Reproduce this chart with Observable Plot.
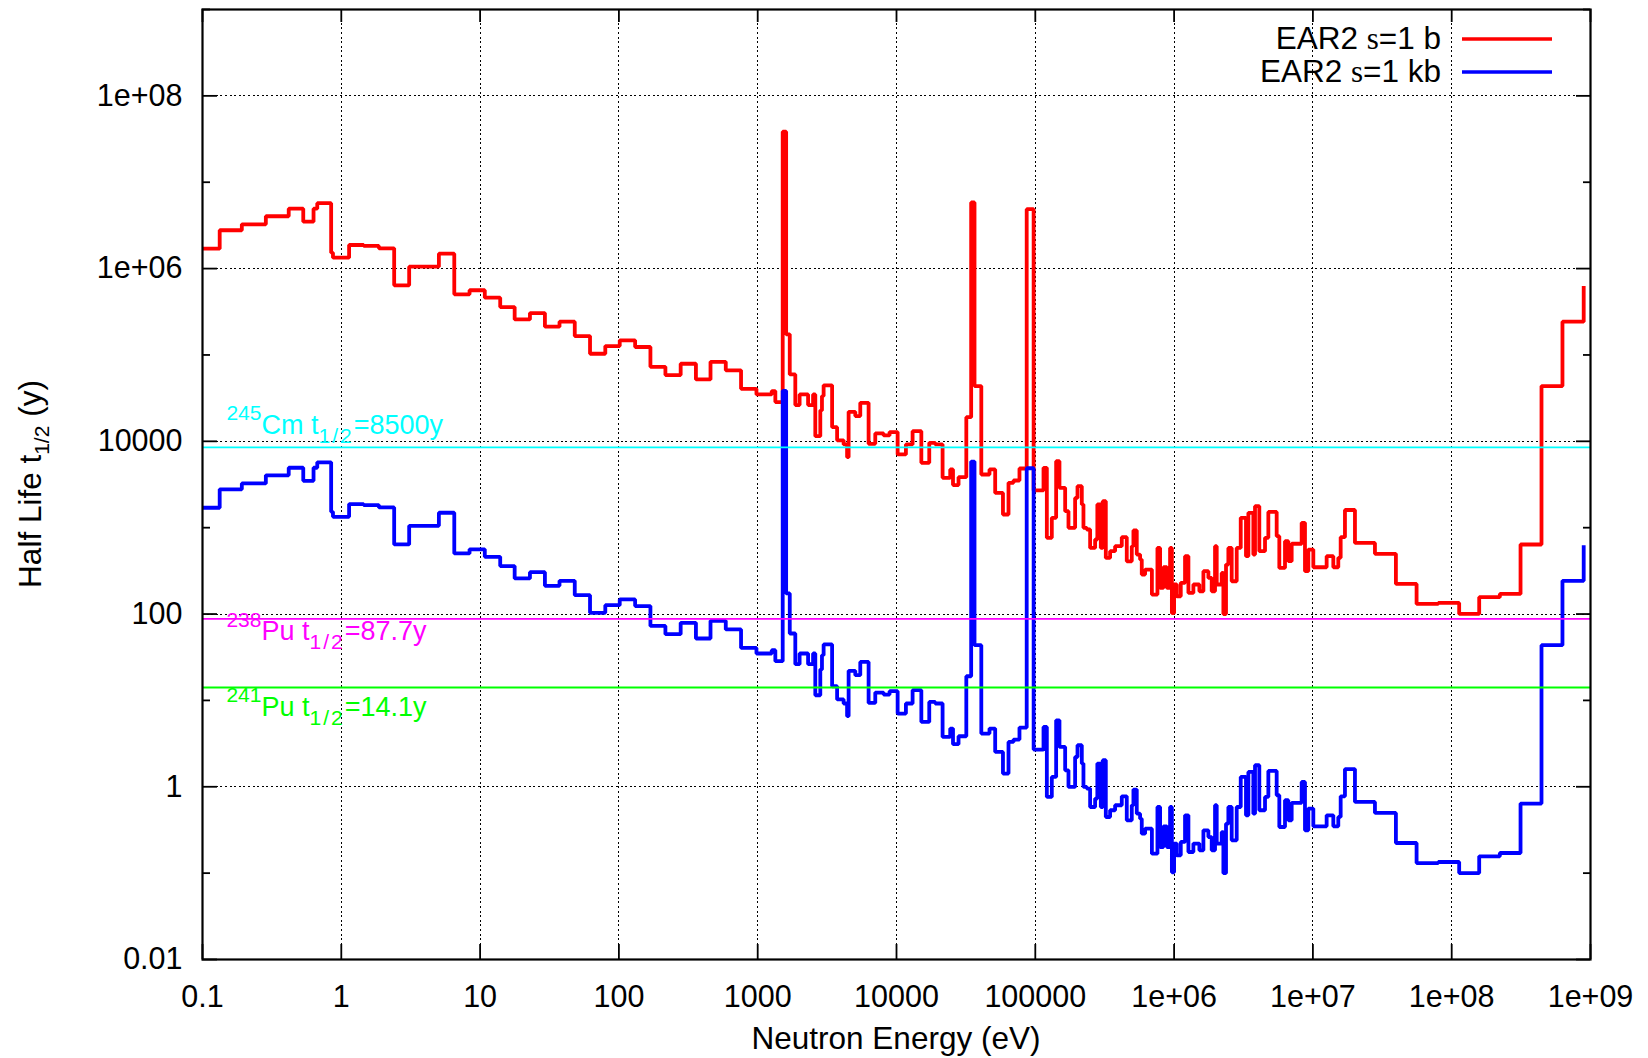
<!DOCTYPE html>
<html>
<head>
<meta charset="utf-8">
<script src="https://cdn.jsdelivr.net/npm/d3@7"></script>
<script src="https://cdn.jsdelivr.net/npm/@observablehq/plot@0.6"></script>
<style>
  body { margin: 0; background: #fff; }
  #chart { width: 1648px; height: 1058px; }
</style>
</head>
<body>
<div id="chart"></div>
<script>
// ---------- DATA ----------
// Lower edge of each energy bin (eV); the last entry closes the final bin.
const energy = [
  0.1, 0.133, 0.192, 0.286, 0.418, 0.532, 0.631, 0.671, 0.845, 0.871,
  1.138, 1.449, 1.866, 2.404, 3.083, 5.047, 6.516, 8.395, 10.81, 13.96,
  17.74, 22.86, 29.31, 37.33, 48.08, 61.94, 79.80, 101.4, 130.9, 168.7,
  216.3, 278.6, 358.9, 457.1, 588.8, 758.6, 979.5, 1262, 1340, 1514,
  1603, 1702, 1866, 2004, 2307, 2506, 2600, 2825, 2904, 2985,
  3436, 3733, 4159, 4406, 4519, 5047, 5483, 6295, 7031, 8072,
  8913, 1.019e4, 1.169e4, 1.306e4, 1.510e4, 1.722e4, 1.901e4, 2.148e4, 2.438e4, 2.553e4,
  2.799e4, 3.184e4, 3.451e4, 3.648e4, 4.083e4, 4.677e4, 5.140e4, 5.848e4, 6.412e4, 6.966e4,
  7.691e4, 8.670e4, 9.727e4, 1.146e5, 1.211e5, 1.315e5, 1.413e5, 1.493e5, 1.641e5, 1.734e5,
  1.936e5, 2.014e5, 2.163e5, 2.223e5, 2.350e5, 2.483e5, 2.698e5, 2.799e5, 2.965e5, 3.062e5,
  3.221e5, 3.459e5, 3.758e5, 4.198e5, 4.560e5, 4.955e5, 5.093e5, 5.383e5, 5.689e5, 5.848e5,
  6.180e5, 6.918e5, 7.586e5, 7.925e5, 8.375e5, 8.872e5, 9.354e5, 9.638e5, 1.000e6, 1.045e6,
  1.117e6, 1.199e6, 1.268e6, 1.377e6, 1.521e6, 1.626e6, 1.766e6, 1.866e6, 1.972e6, 2.028e6,
  2.203e6, 2.265e6, 2.366e6, 2.460e6, 2.600e6, 2.825e6, 3.020e6, 3.296e6, 3.428e6, 3.724e6,
  3.828e6, 4.111e6, 4.519e6, 4.775e6, 5.483e6, 5.728e6, 6.295e6, 6.653e6, 7.031e6, 8.299e6,
  8.770e6, 9.268e6, 1.007e7, 1.256e7, 1.403e7, 1.524e7, 1.585e7, 1.702e7, 2.009e7, 2.799e7,
  3.963e7, 5.585e7, 8.000e7, 1.132e8, 1.578e8, 2.223e8, 3.133e8, 4.436e8, 6.281e8, 8.933e8
];

// Half life (y) for EAR2, sigma = 1 b
const halfLife1b = [
  1.702e6, 2.780e6, 3.258e6, 4.036e6, 4.943e6, 3.491e6, 4.943e6, 5.715e6, 1.528e6, 1.337e6,
  1.875e6, 1.828e6, 1.718e6, 6.397e5, 1.052e6, 1.489e6, 5.035e5, 5.610e5, 4.603e5, 3.589e5,
  2.582e5, 3.055e5, 2.123e5, 2.427e5, 1.656e5, 1.033e5, 1.268e5, 1.476e5, 1.236e5, 7.295e4,
  5.848e4, 7.907e4, 5.212e4, 8.337e4, 6.637e4, 4.055e4, 3.491e4, 3.819e4, 2.844e4, 3.846e7,
  1.734e5, 5.957e4, 2.630e4, 3.491e4, 2.630e4, 3.491e4, 1.148e4, 2.280e4, 3.342e4, 4.446e4,
  1.459e4, 1.026e4, 9.204e3, 6.561e3, 2.198e4, 1.959e4, 2.793e4, 9.354e3, 1.233e4, 1.169e4,
  1.279e4, 7.047e3, 9.204e3, 1.312e4, 5.636e3, 9.616e3, 9.204e3, 3.776e3, 4.721e3, 3.112e3,
  3.846e3, 1.905e4, 5.834e6, 4.365e4, 4.130e3, 4.721e3, 2.529e3, 1.422e3, 3.304e3, 3.516e3,
  4.842e3, 4.875e6, 2.698e3, 4.932e3, 7.638e2, 1.300e3, 5.888e3, 2.897e3, 1.552e3, 9.954e2,
  2.213e3, 3.027e3, 1.858e3, 9.954e2, 9.528e2, 5.834e2, 7.294e2, 1.858e3, 5.834e2, 2.028e3,
  4.467e2, 5.346e2, 6.109e2, 7.762e2, 4.083e2, 6.109e2, 9.289e2, 4.887e2, 4.276e2, 2.864e2,
  3.273e2, 1.679e2, 5.834e2, 2.004e2, 3.483e2, 2.004e2, 5.834e2, 1.023e2, 2.198e2, 1.607e2,
  2.296e2, 4.677e2, 1.758e2, 2.198e2, 1.837e2, 3.133e2, 2.618e2, 1.837e2, 6.109e2, 2.198e2,
  2.992e2, 1.000e2, 3.741e2, 5.834e2, 2.399e2, 5.834e2, 1.300e3, 4.677e2, 1.486e3, 4.887e2,
  1.774e3, 5.346e2, 7.638e2, 1.524e3, 7.980e2, 3.420e2, 6.982e2, 4.093e2, 6.516e2, 1.138e3,
  3.133e2, 5.585e2, 3.483e2, 4.677e2, 3.483e2, 4.477e2, 7.762e2, 1.603e3, 6.668e2, 4.977e2,
  2.234e2, 1.309e2, 1.346e2, 1.002e2, 1.567e2, 1.710e2, 6.383e2, 4.365e4, 2.427e5, 6.281e5
];

// Half life (y) for EAR2, sigma = 1 kb
const halfLife1kb = [
  1.702e3, 2.780e3, 3.258e3, 4.036e3, 4.943e3, 3.491e3, 4.943e3, 5.715e3, 1.528e3, 1.337e3,
  1.875e3, 1.828e3, 1.718e3, 6.397e2, 1.052e3, 1.489e3, 5.035e2, 5.610e2, 4.603e2, 3.589e2,
  2.582e2, 3.055e2, 2.123e2, 2.427e2, 1.656e2, 1.033e2, 1.268e2, 1.476e2, 1.236e2, 7.295e1,
  5.848e1, 7.907e1, 5.212e1, 8.337e1, 6.637e1, 4.055e1, 3.491e1, 3.819e1, 2.844e1, 3.846e4,
  1.734e2, 5.957e1, 2.630e1, 3.491e1, 2.630e1, 3.491e1, 1.148e1, 2.280e1, 3.342e1, 4.446e1,
  1.459e1, 1.026e1, 9.204e0, 6.561e0, 2.198e1, 1.959e1, 2.793e1, 9.354e0, 1.233e1, 1.169e1,
  1.279e1, 7.047e0, 9.204e0, 1.312e1, 5.636e0, 9.616e0, 9.204e0, 3.776e0, 4.721e0, 3.112e0,
  3.846e0, 1.905e1, 5.834e3, 4.365e1, 4.130e0, 4.721e0, 2.529e0, 1.422e0, 3.304e0, 3.516e0,
  4.842e0, 4.875e3, 2.698e0, 4.932e0, 7.638e-1, 1.300e0, 5.888e0, 2.897e0, 1.552e0, 9.954e-1,
  2.213e0, 3.027e0, 1.858e0, 9.954e-1, 9.528e-1, 5.834e-1, 7.294e-1, 1.858e0, 5.834e-1, 2.028e0,
  4.467e-1, 5.346e-1, 6.109e-1, 7.762e-1, 4.083e-1, 6.109e-1, 9.289e-1, 4.887e-1, 4.276e-1, 2.864e-1,
  3.273e-1, 1.679e-1, 5.834e-1, 2.004e-1, 3.483e-1, 2.004e-1, 5.834e-1, 1.023e-1, 2.198e-1, 1.607e-1,
  2.296e-1, 4.677e-1, 1.758e-1, 2.198e-1, 1.837e-1, 3.133e-1, 2.618e-1, 1.837e-1, 6.109e-1, 2.198e-1,
  2.992e-1, 1.000e-1, 3.741e-1, 5.834e-1, 2.399e-1, 5.834e-1, 1.300e0, 4.677e-1, 1.486e0, 4.887e-1,
  1.774e0, 5.346e-1, 7.638e-1, 1.524e0, 7.980e-1, 3.420e-1, 6.982e-1, 4.093e-1, 6.516e-1, 1.138e0,
  3.133e-1, 5.585e-1, 3.483e-1, 4.677e-1, 3.483e-1, 4.477e-1, 7.762e-1, 1.603e0, 6.668e-1, 4.977e-1,
  2.234e-1, 1.309e-1, 1.346e-1, 1.002e-1, 1.567e-1, 1.710e-1, 6.383e-1, 4.365e1, 2.427e2, 6.281e2
];

const seriesLabels = ["1 b", "1 kb"];
const seriesColors = ["#ff0000", "#0000ff"];

// Reference half lives
const refValue = [8500, 87.7, 14.1];
const refMass = ["245", "238", "241"];
const refElement = ["Cm", "Pu", "Pu"];
const refTime = ["=8500y", "=87.7y", "=14.1y"];
const refColor = ["#00ffff", "#ff00ff", "#00ff00"];
const refLabelEnergy = 0.15;
const refLabelDy = [-13, 22, 29];

// Axis ticks
const xTicks = [0.1, 1, 10, 100, 1000, 1e4, 1e5, 1e6, 1e7, 1e8, 1e9];
const xTickLabels = ["0.1", "1", "10", "100", "1000", "10000", "100000", "1e+06", "1e+07", "1e+08", "1e+09"];
const xGrid = [1, 10, 100, 1000, 1e4, 1e5, 1e6, 1e7, 1e8];
const yTicks = [0.01, 1, 100, 1e4, 1e6, 1e8];
const yTickLabels = ["0.01", "1", "100", "10000", "1e+06", "1e+08"];
const yMinorTicks = [0.1, 10, 1000, 1e5, 1e7, 1e9];
const yGrid = [1, 100, 1e4, 1e6, 1e8];

// ---------- LAYOUT ----------
const W = 1648, H = 1058;
const mL = 202, mR = 58, mT = 9, mB = 99;
const frameW = W - mL - mR, frameH = H - mT - mB;
const FONT = "'Liberation Sans', Arial, Helvetica, sans-serif";

const redData = energy.map((e, i) => ({e, t: halfLife1b[i]}));
const blueData = energy.map((e, i) => ({e, t: halfLife1kb[i]}));

const gridStyle = {stroke: "#000", strokeOpacity: 1, strokeWidth: 1, strokeDasharray: "2,2.6", shapeRendering: "crispEdges"};
const lineStyle = {x: "e", y: "t", curve: "step-after", strokeWidth: 3.8, strokeLinejoin: "miter", strokeLinecap: "butt"};

const plot = Plot.plot({
  width: W, height: H,
  marginLeft: mL, marginRight: mR, marginTop: mT, marginBottom: mB,
  style: {fontFamily: FONT, fontSize: "30.5px", color: "#000", background: "#fff", overflow: "visible"},
  x: {type: "log", domain: [0.1, 1e9]},
  y: {type: "log", domain: [0.01, 1e9]},
  marks: [
    Plot.gridX(xGrid, gridStyle),
    Plot.gridY(yGrid, gridStyle),
    Plot.line(redData, {...lineStyle, stroke: seriesColors[0]}),
    Plot.line(blueData, {...lineStyle, stroke: seriesColors[1]}),
    ...refValue.map((v, i) => Plot.ruleY([v], {stroke: refColor[i], strokeWidth: 1.8})),
    // inward ticks, gnuplot style
    Plot.tickX(xTicks, {x: d => d, stroke: "#000", strokeWidth: 1.8, insetTop: frameH - 15}),
    Plot.tickX(xTicks, {x: d => d, stroke: "#000", strokeWidth: 1.8, insetBottom: frameH - 13}),
    Plot.tickY(yTicks, {y: d => d, stroke: "#000", strokeWidth: 1.8, insetRight: frameW - 15}),
    Plot.tickY(yTicks, {y: d => d, stroke: "#000", strokeWidth: 1.8, insetLeft: frameW - 14}),
    Plot.tickY(yMinorTicks, {y: d => d, stroke: "#000", strokeWidth: 1.8, insetRight: frameW - 8}),
    Plot.tickY(yMinorTicks, {y: d => d, stroke: "#000", strokeWidth: 1.8, insetLeft: frameW - 7}),
    Plot.frame({stroke: "#000", strokeWidth: 2.2}),
    Plot.axisX(xTicks, {tickSize: 0, tickPadding: 26, fontSize: 30.5, label: null,
      tickFormat: d => xTickLabels[xTicks.indexOf(d)]}),
    Plot.axisY(yTicks, {tickSize: 0, tickPadding: 20, fontSize: 30.5, label: null,
      tickFormat: d => yTickLabels[yTicks.indexOf(d)]})
  ]
});

document.getElementById("chart").appendChild(plot);

const svg = d3.select(plot);
const xs = plot.scale("x"), ys = plot.scale("y");

// Y axis title
const yTitle = svg.append("text")
  .attr("transform", `translate(41,${(mT + H - mB) / 2}) rotate(-90)`)
  .attr("text-anchor", "middle").attr("font-family", FONT)
  .attr("font-size", 31.5).attr("fill", "#000");
yTitle.append("tspan").text("Half Life t");
yTitle.append("tspan").attr("font-size", 21).attr("dy", 8).text("1/2");
yTitle.append("tspan").attr("dy", -8).text(" (y)");

// X axis title
svg.append("text")
  .attr("x", (mL + W - mR) / 2).attr("y", 1049)
  .attr("text-anchor", "middle").attr("font-family", FONT)
  .attr("font-size", 31.5).attr("fill", "#000")
  .text("Neutron Energy (eV)");

// Reference-line labels
refValue.forEach((v, i) => {
  const t = svg.append("text")
    .attr("x", xs.apply(refLabelEnergy))
    .attr("y", ys.apply(v) + refLabelDy[i])
    .attr("text-anchor", "start")
    .attr("font-family", FONT).attr("font-size", 27).attr("fill", refColor[i]);
  t.append("tspan").attr("font-size", 21).attr("dy", -13.7).text(refMass[i]);
  t.append("tspan").attr("dy", 13.7).text(refElement[i] + " t");
  t.append("tspan").attr("font-size", 21).attr("dy", 8.7).attr("letter-spacing", 2).text("1/2");
  t.append("tspan").attr("dy", -8.7).text(refTime[i]);
});

// Legend (top right, inside frame)
const frameRight = xs.range[1];
seriesLabels.forEach((lab, i) => {
  const baseY = mT + 40 + i * 33;
  const t = svg.append("text")
    .attr("x", frameRight - 149).attr("y", baseY)
    .attr("text-anchor", "end").attr("font-family", FONT)
    .attr("font-size", 31.5).attr("fill", "#000");
  t.append("tspan").text("EAR2 ");
  t.append("tspan").attr("font-family", "'Liberation Serif', 'DejaVu Serif', serif").attr("font-size", 31).text("s");
  t.append("tspan").text("=" + lab);
  svg.append("line")
    .attr("x1", frameRight - 128).attr("x2", frameRight - 38)
    .attr("y1", baseY - 10).attr("y2", baseY - 10)
    .attr("stroke", seriesColors[i]).attr("stroke-width", 3.6);
});
</script>
</body>
</html>
